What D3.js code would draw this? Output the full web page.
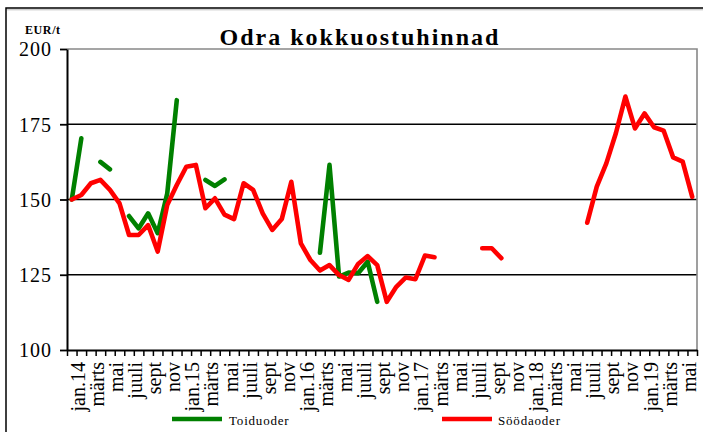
<!DOCTYPE html>
<html>
<head>
<meta charset="utf-8">
<script src="https://cdn.jsdelivr.net/npm/d3@7/dist/d3.min.js"></script>
<style>
  html, body { margin: 0; padding: 0; background: #fff; }
  svg { display: block; }
</style>
</head>
<body>
<svg id="chart" width="703" height="432"></svg>
<script>
// ---- Data ----
const monthNames = ["jan", "veebr", "märts", "apr", "mai", "juuni", "juuli", "aug", "sept", "okt", "nov", "dets"];
const years = [14, 15, 16, 17, 18, 19];
const categories = [];
years.forEach(y => monthNames.forEach((m, i) => {
  if (categories.length < 66) categories.push(i === 0 ? m + "." + y : m);
}));

const seriesNames = ["Toiduoder", "Söödaoder"];

const toiduoder = [150, 170.3, null, 162.5, 160, null, 144.5, 140.4, 145.4, 138.8, 152, 183,
  null, null, 156.5, 154.5, 156.7, null, null, null, null, null, null, null,
  null, null, 132.3, 161.5, 124.4, 125.7, 125.5, 129.3, 116, null, null, null,
  null, null, null, null, null, null, null, null, null, null, null, null,
  null, null, null, null, null, null, null, null, null, null, null, null,
  null, null, null, null, null, null];

const soodaoder = [150, 151.5, 155.4, 156.5, 153.2, 148.7, 138.2, 138.2, 141.5, 132.7, 148.2, 154.8,
  160.9, 161.5, 147.1, 150.4, 145, 143.5, 155.4, 153.2, 145.4, 139.9, 143.5, 155.9,
  135.4, 129.9, 126.4, 128.2, 124.9, 123.3, 128.6, 131.2, 128.2, 116, 121, 124.1,
  123.5, 131.4, 130.8, null, null, null, null, 133.8, 133.8, 130.5, null, null,
  null, null, null, null, null, null, 142.3, 154.3, 162, 172, 184.2, 173.6,
  178.6, 174, 172.9, 164, 162.6, 150.9];

const yTicks = [100, 125, 150, 175, 200];
const titleText = "Odra kokkuostuhinnad";
const unitText = "EUR/t";

// ---- Layout ----
const FONT = "Liberation Serif";
const svg = d3.select("#chart");
const L = 67, R = 697, T = 49, B = 350;

const x = d3.scaleBand().domain(d3.range(categories.length)).range([L, R]);
const xb = d3.scaleLinear().domain([0, categories.length]).range([L, R]);
const y = d3.scaleLinear().domain([100, 200]).range([B, T]);

// outer frame
svg.append("rect").attr("x", 6).attr("y", 8).attr("width", 720).attr("height", 440)
  .attr("fill", "none").attr("stroke", "#000").attr("stroke-width", 1.5);
svg.append("line").attr("x1", 7).attr("x2", 703).attr("y1", 9.8).attr("y2", 9.8)
  .attr("stroke", "#bbb").attr("stroke-width", 1);

// gridlines
svg.append("g").selectAll("line").data(yTicks.filter(v => v > 100 && v < 200)).join("line")
  .attr("x1", L).attr("x2", R).attr("y1", d => y(d)).attr("y2", d => y(d))
  .attr("stroke", "#000").attr("stroke-width", 1.6);

// plot border (top/right grey)
svg.append("path")
  .attr("d", `M${L},${y(200)}H${R}V${B}`)
  .attr("fill", "none").attr("stroke", "#888").attr("stroke-width", 1.6);

// Y axis
const yAxis = svg.append("g").attr("transform", `translate(${L},0)`)
  .call(d3.axisLeft(y).tickValues(yTicks).tickSize(7).tickSizeOuter(0).tickFormat(d3.format("d")));
yAxis.attr("font-family", FONT);
yAxis.select(".domain").attr("stroke", "#000").attr("stroke-width", 2);
yAxis.selectAll(".tick line").attr("stroke", "#000").attr("stroke-width", 1.8);
yAxis.selectAll(".tick text")
  .attr("x", -15).attr("dy", "0.34em")
  .style("font-family", FONT)
  .attr("font-size", 20).style("letter-spacing", "1px").attr("fill", "#000");

// X axis (ticks at category boundaries)
const xAxis = svg.append("g").attr("transform", `translate(0,${B})`)
  .call(d3.axisBottom(xb).tickValues(d3.range(categories.length + 1)).tickSize(6).tickSizeOuter(0).tickFormat(""));
xAxis.select(".domain").attr("stroke", "#000").attr("stroke-width", 2);
xAxis.selectAll(".tick line").attr("stroke", "#000").attr("stroke-width", 1.5);

// X labels (every second month)
svg.append("g").selectAll("text")
  .data(categories.map((c, i) => ({ c, i })).filter(d => d.i % 2 === 0))
  .join("text")
  .attr("transform", d => `translate(${x(d.i) + x.bandwidth() / 2 + 6},362) rotate(-90)`)
  .attr("text-anchor", "end")
  .attr("dy", "0.35em")
  .style("font-family", FONT)
  .attr("font-size", 20)
  .text(d => d.c);

// Lines
const line = d3.line()
  .defined(d => d.v != null)
  .x(d => x(d.i) + x.bandwidth() / 2)
  .y(d => y(d.v));

const seriesData = [
  { name: seriesNames[0], values: toiduoder, color: "#008000" },
  { name: seriesNames[1], values: soodaoder, color: "#ff0000" }
];

svg.append("g").selectAll("path").data(seriesData).join("path")
  .attr("d", s => line(s.values.map((v, i) => ({ v, i }))))
  .attr("fill", "none")
  .attr("stroke", s => s.color)
  .attr("stroke-width", 4.6)
  .attr("stroke-linejoin", "round")
  .attr("stroke-linecap", "round");

// Title
svg.append("text").attr("x", 360).attr("y", 45).attr("text-anchor", "middle")
  .style("font-family", FONT)
  .attr("font-size", 24).attr("font-weight", "bold").style("letter-spacing", "2px")
  .text(titleText);

svg.append("text").attr("x", 25).attr("y", 34)
  .style("font-family", FONT)
  .attr("font-size", 12).attr("font-weight", "bold").style("letter-spacing", "0.6px")
  .text(unitText);

// Legend
const legendPos = [{ x1: 172, tx: 229 }, { x1: 442, tx: 498 }];
const lg = svg.append("g").selectAll("g").data(seriesData).join("g");
lg.append("line")
  .attr("x1", (d, i) => legendPos[i].x1).attr("x2", (d, i) => legendPos[i].x1 + 50)
  .attr("y1", 419).attr("y2", 419)
  .attr("stroke", d => d.color).attr("stroke-width", 4.6);
lg.append("text")
  .attr("x", (d, i) => legendPos[i].tx).attr("y", 425)
  .style("font-family", FONT)
  .attr("font-size", 13).style("letter-spacing", "0.8px")
  .text(d => d.name);
</script>
</body>
</html>
